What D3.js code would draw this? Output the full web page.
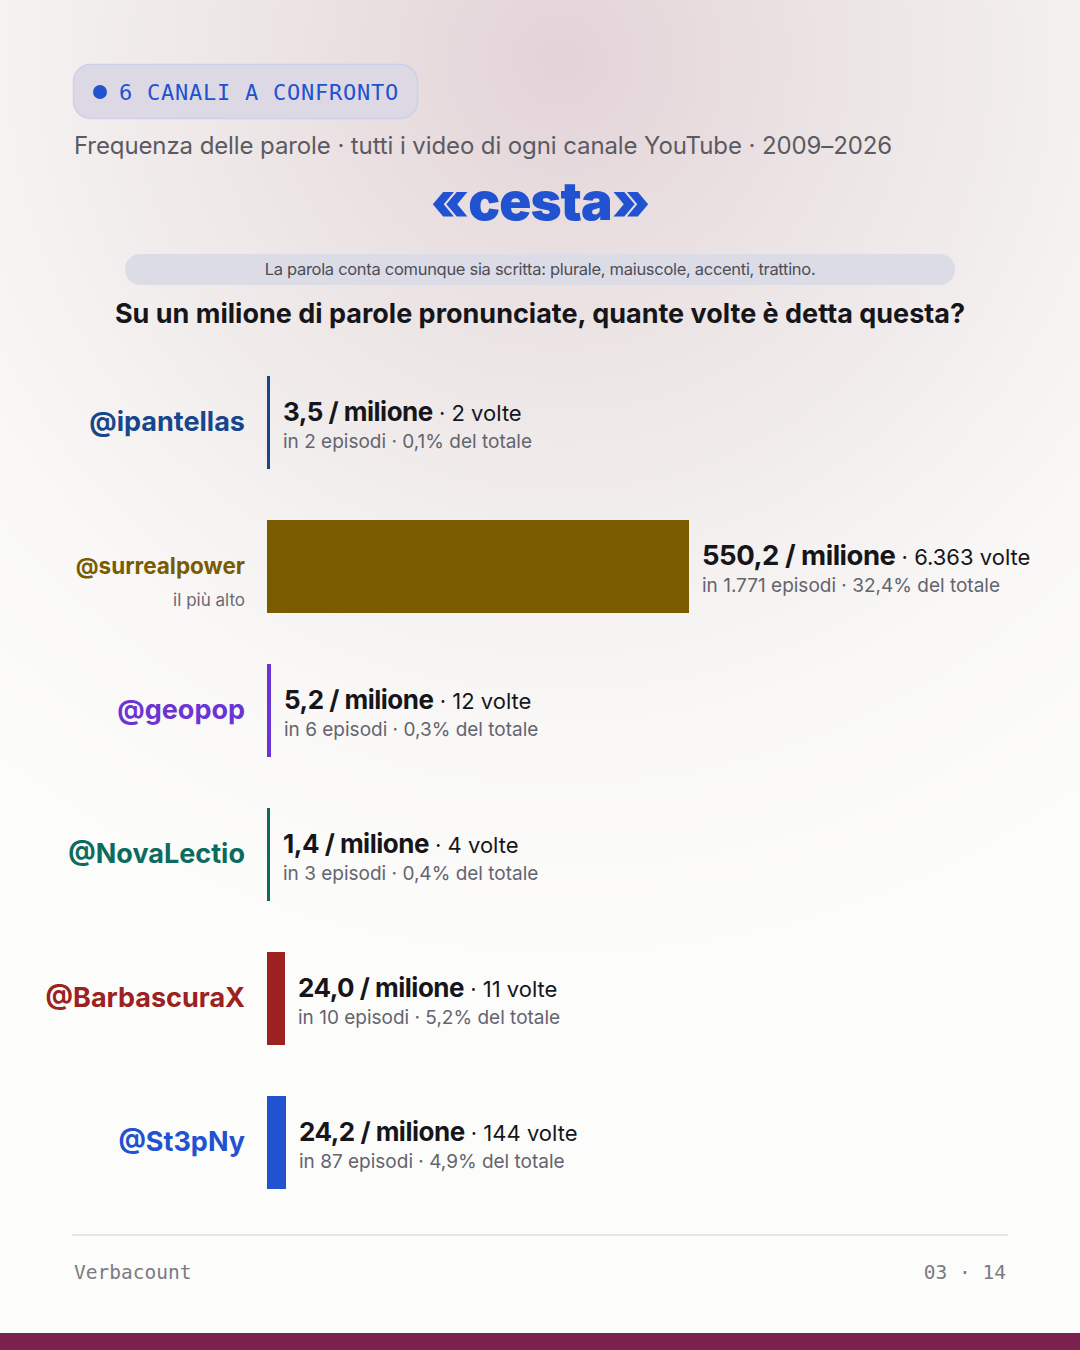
<!doctype html>
<html>
<head>
<meta charset="utf-8">
<script src="https://cdn.jsdelivr.net/npm/d3@7"></script>
<style>
  body { margin: 0; background: #fbfaf9; }
  svg { display: block; }
  text { font-family: Inter, "Noto Sans", sans-serif; }
  .mono { font-family: "DejaVu Sans Mono", "Liberation Mono", monospace; }
</style>
</head>
<body>
<svg id="chart" width="1080" height="1350"></svg>
<script>
// data
var channels   = ["@ipantellas", "@surrealpower", "@geopop", "@NovaLectio", "@BarbascuraX", "@St3pNy"];
var perMillion = [3.5, 550.2, 5.2, 1.4, 24.0, 24.2];
var counts     = [2, 6363, 12, 4, 11, 144];
var episodes   = [2, 1771, 6, 3, 10, 87];
var shares     = [0.1, 32.4, 0.3, 0.4, 5.2, 4.9];
var palette    = ["#17478a", "#7a5b00", "#6a35d2", "#0d6b5e", "#9c2121", "#2152d0"];

var it = d3.formatLocale({decimal: ",", thousands: ".", grouping: [3], currency: ["€", ""]});
var f1 = it.format(",.1f"), fInt = it.format(",d");

var svg = d3.select("#chart");
var W = 1080, H = 1350;

// background
var defs = svg.append("defs");
var rg = defs.append("radialGradient").attr("id", "bg")
  .attr("gradientUnits", "userSpaceOnUse")
  .attr("cx", 560).attr("cy", 60).attr("r", 900);
rg.append("stop").attr("offset", 0).attr("stop-color", "#e3d3d8");
rg.append("stop").attr("offset", 0.35).attr("stop-color", "#ede6e6");
rg.append("stop").attr("offset", 0.75).attr("stop-color", "#f9f8f7");
rg.append("stop").attr("offset", 1).attr("stop-color", "#fcfcfb");
svg.append("rect").attr("width", W).attr("height", H).attr("fill", "url(#bg)");
svg.append("rect").attr("x", 0).attr("y", 1333).attr("width", W).attr("height", 17).attr("fill", "#7a2150");

// badge
svg.append("rect").attr("x", 73.5).attr("y", 64.5).attr("width", 344).attr("height", 54).attr("rx", 17)
  .attr("fill", "#dcd9e5").attr("stroke", "#cdd0ea").attr("stroke-width", 1.5);
svg.append("circle").attr("cx", 100).attr("cy", 92).attr("r", 7).attr("fill", "#2152d0");
svg.append("text").attr("class", "mono").attr("x", 119).attr("y", 100)
  .attr("font-size", 22).attr("fill", "#2152d0").attr("letter-spacing", 0.75)
  .text("6 CANALI A CONFRONTO");

svg.append("text").attr("x", 74).attr("y", 154).attr("font-size", 24).attr("fill", "#5b5a63")
  .attr("letter-spacing", -0.1)
  .text("Frequenza delle parole · tutti i video di ogni canale YouTube · 2009–2026");

svg.append("text").attr("x", 540).attr("y", 220).attr("text-anchor", "middle")
  .attr("font-size", 53).attr("font-weight", 900).attr("fill", "#2152d0").attr("letter-spacing", -1)
  .text("«cesta»");

svg.append("rect").attr("x", 125).attr("y", 254).attr("width", 830).attr("height", 31).attr("rx", 15.5)
  .attr("fill", "#dcdce6");
svg.append("text").attr("x", 540).attr("y", 275).attr("text-anchor", "middle")
  .attr("font-size", 16.5).attr("fill", "#4e4d57").attr("letter-spacing", -0.3)
  .text("La parola conta comunque sia scritta: plurale, maiuscole, accenti, trattino.");

svg.append("text").attr("x", 540).attr("y", 323).attr("text-anchor", "middle")
  .attr("font-size", 27).attr("font-weight", 700).attr("fill", "#16161a")
  .text("Su un milione di parole pronunciate, quante volte è detta questa?");

// scales
var x = d3.scaleLinear().domain([0, d3.max(perMillion)]).range([0, 422]);
var y = d3.scaleBand().domain(channels).range([376, 1189]).paddingInner(51 / 144).paddingOuter(0);
var x0 = 267, minW = 3;
var rows = channels.map(function (c, i) {
  return {name: c, v: perMillion[i], n: counts[i], ep: episodes[i], sh: shares[i], col: palette[i]};
});
var maxV = d3.max(perMillion);
var isTop = function (d) { return d.v === maxV; };

var g = svg.selectAll("g.row").data(rows).enter().append("g").attr("class", "row")
  .attr("transform", function (d) { return "translate(0," + y(d.name) + ")"; });
var bh = y.bandwidth();

g.append("rect").attr("x", x0).attr("y", 0).attr("height", bh)
  .attr("width", function (d) { return Math.max(minW, Math.round(x(d.v))); })
  .attr("fill", function (d) { return d.col; });

g.append("text").attr("x", 245).attr("y", function (d) { return isTop(d) ? bh / 2 + 7 : bh / 2 + 8; })
  .attr("text-anchor", "end").attr("font-weight", 700)
  .attr("font-size", function (d) { return isTop(d) ? 22.5 : 27; })
  .attr("fill", function (d) { return d.col; })
  .text(function (d) { return d.name; });

g.filter(isTop).append("text")
  .attr("x", 245).attr("y", bh / 2 + 39).attr("text-anchor", "end")
  .attr("font-size", 17).attr("fill", "#6a6a72").text("il più alto");

var lx = function (d) { return x0 + Math.max(minW, Math.round(x(d.v))) + 13; };
var t1 = g.append("text").attr("x", lx).attr("y", bh / 2 - 2).attr("fill", "#16161a");
t1.append("tspan").attr("font-weight", 700).attr("letter-spacing", -0.5)
  .attr("font-size", function (d) { return isTop(d) ? 27.5 : 26; })
  .text(function (d) { return f1(d.v) + " / milione"; });
t1.append("tspan").attr("font-size", 22)
  .text(function (d) { return " · " + fInt(d.n) + " volte"; });

g.append("text").attr("x", lx).attr("y", bh / 2 + 25).attr("font-size", 19).attr("fill", "#64646e")
  .text(function (d) { return "in " + fInt(d.ep) + " episodi · " + f1(d.sh) + "% del totale"; });

// footer
svg.append("line").attr("x1", 72).attr("x2", 1008).attr("y1", 1235).attr("y2", 1235)
  .attr("stroke", "#e6e5e5").attr("stroke-width", 2);
svg.append("text").attr("class", "mono").attr("x", 74).attr("y", 1279).attr("font-size", 19.5)
  .attr("fill", "#7b7a82").text("Verbacount");
svg.append("text").attr("class", "mono").attr("x", 1006).attr("y", 1279).attr("text-anchor", "end")
  .attr("font-size", 19.5).attr("fill", "#7b7a82").text("03 · 14");
</script>
</body>
</html>
